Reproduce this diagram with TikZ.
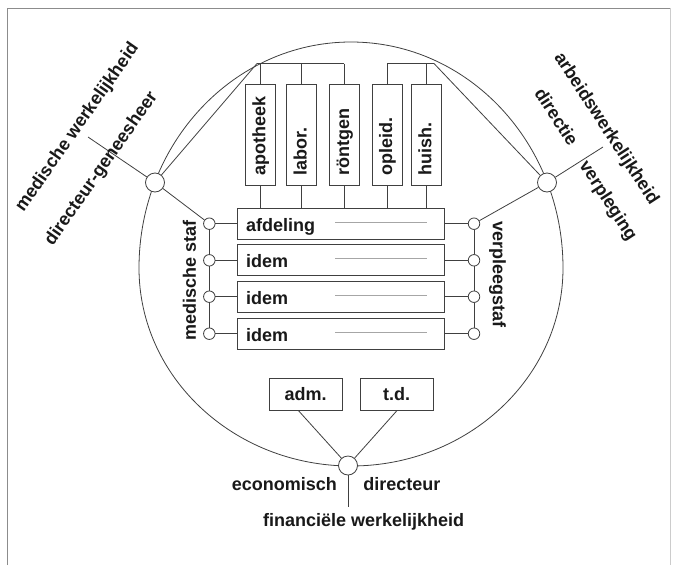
\documentclass[tikz,border=0pt]{standalone}
\usepackage{fontspec}
\setmainfont{Liberation Sans}
\begin{document}
\tikzset{
 ln/.style={draw=black!75, line width=0.8pt},
 framel/.style={draw=black!45, line width=0.8pt},
 bigc/.style={circle, ln, fill=white, minimum size=19pt, inner sep=0pt},
 smc/.style={circle, ln, fill=white, minimum size=11.5pt, inner sep=0pt},
 box/.style={rectangle, ln, fill=white, inner sep=0pt},
 hbox/.style={box, minimum width=207pt, minimum height=31pt},
 vbox/.style={box, minimum width=30pt, minimum height=101pt},
 txt/.style={font=\fontsize{18}{21}\selectfont\bfseries, inner sep=0pt, text=black!90},
 gline/.style={draw=black!35, line width=0.7pt},
}
\begin{tikzpicture}[x=1pt,y=-1pt]
\useasboundingbox (0,0) rectangle (674,565);
\fill[white] (0,0) rectangle (674,565);
\draw[framel] (7,565) -- (7,8) -- (670,8);
\draw[draw=black!20, line width=0.6pt] (670,8) -- (670,565);
% egg-shaped outline
\draw[ln] (139,268) arc[start angle=180, end angle=0, x radius=212pt, y radius=226pt]
               arc[start angle=0, end angle=-180, x radius=212pt, y radius=198pt] -- cycle;
% junctions
\coordinate (JL) at (257,63.5);
\coordinate (JR) at (434,63.5);
\coordinate (LE) at (88,137);
\coordinate (RE) at (603,147);
\coordinate (BE) at (348,507);
% big circles
\node[bigc] (L) at (155,182.5) {};
\node[bigc] (R) at (547,182.5) {};
\node[bigc] (B) at (348,465.5) {};
% vertical boxes
\node[vbox] (v1) at (260.3,134.7) {};
\node[vbox] (v2) at (301.7,134.7) {};
\node[vbox] (v3) at (344,134.7) {};
\node[vbox] (v4) at (387,134.7) {};
\node[vbox] (v5) at (426.3,134.7) {};
% horizontal boxes
\node[hbox] (a1) at (341.3,223.7) {};
\node[hbox] (a2) at (341.3,260.3) {};
\node[hbox] (a3) at (341.3,296.7) {};
\node[hbox] (a4) at (341.3,333.7) {};
% small circles
\node[smc] (l1) at (209.3,223.7) {};
\node[smc] (l2) at (209.3,260.3) {};
\node[smc] (l3) at (209.3,296.7) {};
\node[smc] (l4) at (209.3,333.7) {};
\node[smc] (r1) at (474,223.7) {};
\node[smc] (r2) at (474,260.3) {};
\node[smc] (r3) at (474,296.7) {};
\node[smc] (r4) at (474,333.7) {};
% bottom boxes
\node[box, minimum width=73pt, minimum height=32pt, txt] (adm) at (305.7,394.5) {adm.};
\node[box, minimum width=73pt, minimum height=32pt, txt] (td) at (396.7,394.5) {t.d.};
% connectors
\draw[ln] (JL) -- (L);
\draw[ln] (JR) -- (R);
\draw[ln] (JL) -- (v3.north |- JL);
\draw[ln] (v4.north |- JR) -- (JR);
\foreach \v in {v1,v2,v3,v4,v5}{
  \draw[ln] (\v.north |- JL) -- (\v.north);
  \draw[ln] (\v.south) -- (\v.south |- a1.north);
}
\foreach \i in {1,2,3,4}{
  \draw[ln] (l\i) -- (a\i.west);
  \draw[ln] (r\i) -- (a\i.east);
}
\draw[ln] (l1) -- (l2); \draw[ln] (l2) -- (l3); \draw[ln] (l3) -- (l4);
\draw[ln] (r1) -- (r2); \draw[ln] (r2) -- (r3); \draw[ln] (r3) -- (r4);
\draw[ln] (L) -- (l1);
\draw[ln] (R) -- (r1);
\draw[ln] (L) -- (LE);
\draw[ln] (R) -- (RE);
\draw[ln] (B) -- ([xshift=-7pt]adm.south);
\draw[ln] (B) -- (td.south);
\draw[ln] (B) -- (BE);
% grey lines in boxes
\foreach \i in {1,2,3,4}{
  \draw[gline] ([yshift=1.5pt]a\i.center -| 335,0) -- ([yshift=1.5pt]a\i.center -| 427,0);
}
% box texts
\node[txt, anchor=base west] (t1) at (246,231) {afdeling};
\node[txt, anchor=base west] (t2) at (246,267.6) {idem};
\node[txt, anchor=base west] (t3) at (246,304) {idem};
\node[txt, anchor=base west] (t4) at (246,341) {idem};
\node[txt, rotate=90, anchor=base west] (w1) at (265.3,176) {apotheek};
\node[txt, rotate=90, anchor=base west] (w2) at (306.7,176) {labor.};
\node[txt, rotate=90, anchor=base west] (w3) at (349,176) {röntgen};
\node[txt, rotate=90, anchor=base west] (w4) at (392,176) {opleid.};
\node[txt, rotate=90, anchor=base west] (w5) at (431.3,176) {huish.};
% side labels
\node[txt, rotate=90] (ms) at (189.5,280) {medische staf};
\node[txt, rotate=-90] (vs) at (497.5,274.5) {verpleegstaf};
\node[txt, rotate=55] (mw) at (77.5,127.5) {medische werkelijkheid};
\node[txt, rotate=55] (dg) at (101.5,169) {directeur-geneesheer};
\node[txt, rotate=-57] (aw) at (606,129) {arbeidswerkelijkheid};
\node[txt, rotate=-57] (di) at (556.7,116.7) {directie};
\node[txt, rotate=-57] (vp) at (607.5,201) {verpleging};
% bottom labels
\node[txt, anchor=base] (ec) at (284.3,490) {economisch};
\node[txt, anchor=base] (dr) at (401.8,490) {directeur};
\node[txt, anchor=base] (fw) at (363.7,526.7) {financiële werkelijkheid};
\end{tikzpicture}
\end{document}
